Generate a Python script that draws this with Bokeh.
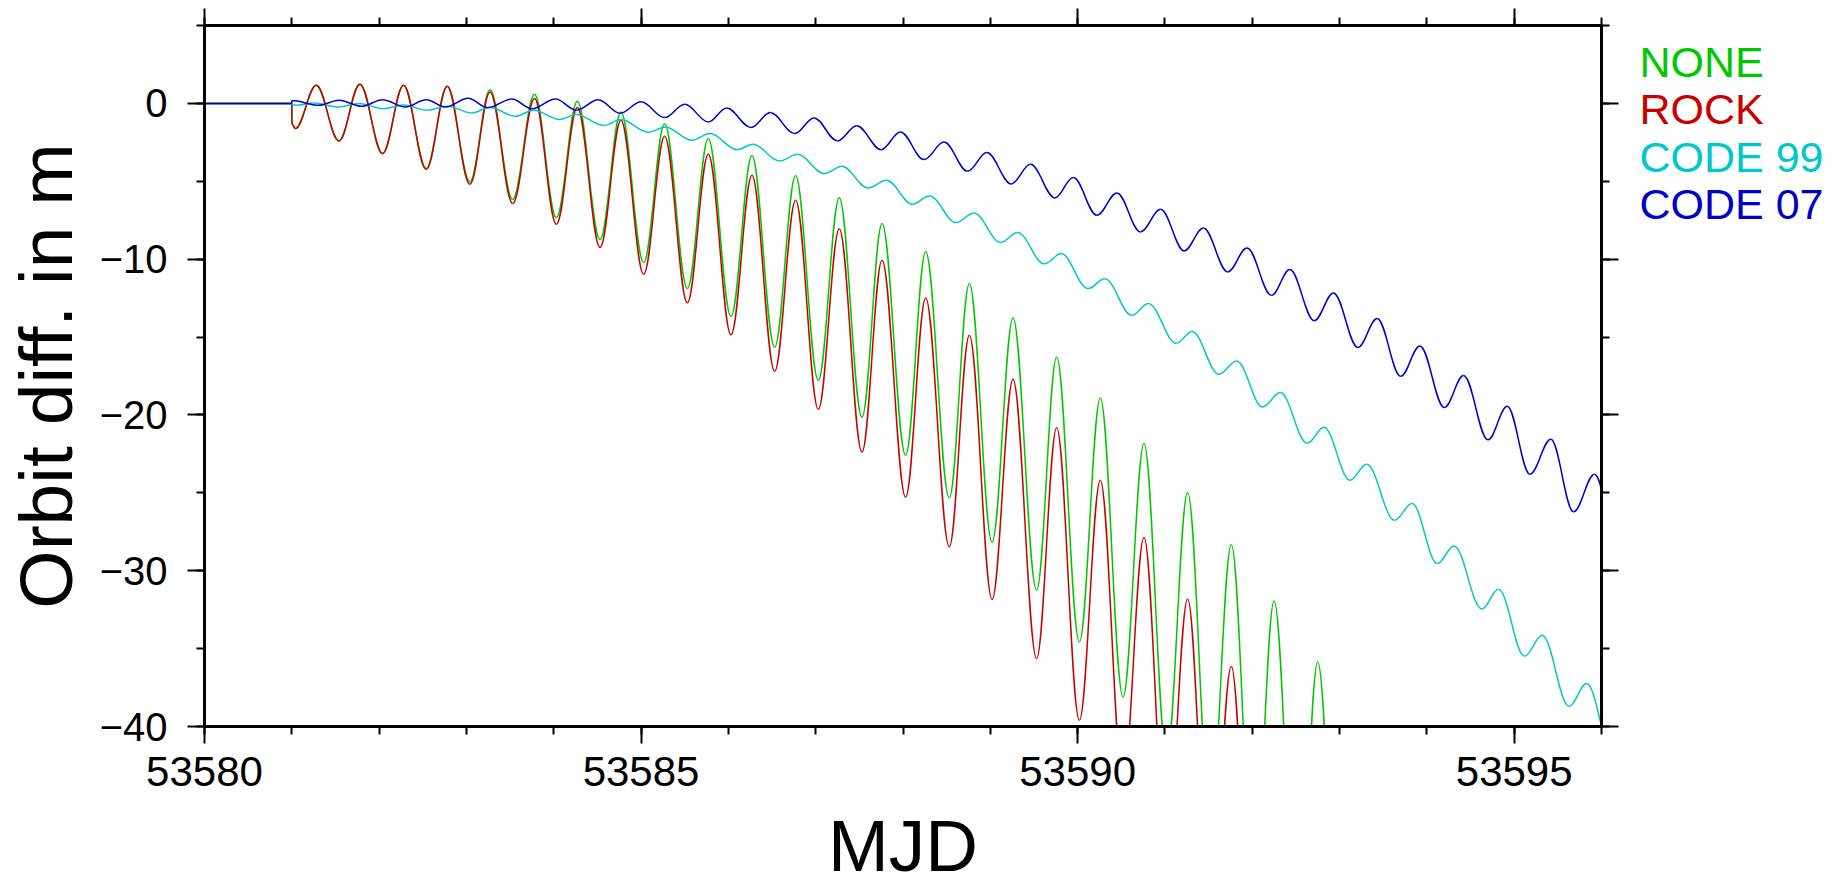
import numpy as np
from bokeh.plotting import figure
from bokeh.models import Range1d, LinearAxis, FixedTicker, ColumnDataSource
from bokeh.layouts import row, column
from bokeh.core.properties import value
from bokeh.embed import file_html
from bokeh.resources import INLINE

# ---------------- data ----------------
# Each series is given by its knots: start, the jump at MJD 53581 and then
# the successive maxima / minima of the orbit difference (metres).
none_x = [53580.0, 53581.0, 53581.0, 53581.04,
          53581.28, 53581.54, 53581.78, 53582.04, 53582.28, 53582.54,
          53582.78, 53583.04, 53583.27, 53583.53, 53583.78, 53584.03,
          53584.27, 53584.53, 53584.77, 53585.03, 53585.27, 53585.53,
          53585.77, 53586.03, 53586.27, 53586.53, 53586.77, 53587.03,
          53587.27, 53587.53, 53587.76, 53588.03, 53588.26, 53588.53,
          53588.76, 53589.02, 53589.26, 53589.53, 53589.76, 53590.02,
          53590.26, 53590.52, 53590.76, 53591.02, 53591.26, 53591.52,
          53591.76, 53592.02, 53592.25, 53592.52, 53592.75, 53593.02,
          53593.25, 53593.52]
none_y = [0.0, 0.0, -1.3, -1.62,
          1.16, -2.41, 1.23, -3.22, 1.16, -4.18,
          1.10, -5.04, 0.88, -6.17, 0.58, -7.33,
          0.13, -8.74, -0.55, -10.21, -1.31, -11.89,
          -2.26, -13.67, -3.35, -15.66, -4.63, -17.78,
          -6.05, -20.14, -7.71, -22.59, -9.51, -25.32,
          -11.57, -28.17, -13.78, -31.25, -16.28, -34.57,
          -18.91, -38.1, -21.84, -41.9, -24.98, -45.8,
          -28.32, -49.9, -31.94, -54.2, -35.85, -58.6,
          -40.1, -63.0]

rock_x = list(none_x)
rock_y = [0.0, 0.0, -1.3, -1.62,
          1.16, -2.41, 1.23, -3.22, 1.16, -4.24,
          1.10, -5.19, 0.73, -6.43, 0.31, -7.76,
          -0.27, -9.25, -1.08, -10.97, -2.11, -12.81,
          -3.27, -14.86, -4.62, -17.2, -6.22, -19.64,
          -8.04, -22.38, -10.07, -25.28, -12.5, -28.47,
          -14.89, -31.85, -17.71, -35.64, -20.83, -39.6,
          -24.19, -43.6, -27.87, -47.9, -31.81, -52.3,
          -36.13, -56.9, -40.8, -61.7, -45.6, -66.6,
          -50.6, -71.7]

code99_x = [53580.0, 53581.0, 53581.0, 53581.06,
            53581.25, 53581.54, 53581.77, 53582.05, 53582.28, 53582.55,
            53582.78, 53583.06, 53583.27, 53583.56, 53583.77, 53584.07,
            53584.26, 53584.57, 53584.77, 53585.08, 53585.28, 53585.58,
            53585.79, 53586.10, 53586.28, 53586.59, 53586.79, 53587.10,
            53587.30, 53587.60, 53587.81, 53588.11, 53588.30, 53588.61,
            53588.81, 53589.12, 53589.31, 53589.62, 53589.81, 53590.12,
            53590.31, 53590.62, 53590.81, 53591.13, 53591.31, 53591.62,
            53591.82, 53592.12, 53592.32, 53592.63, 53592.82, 53593.12,
            53593.31, 53593.63, 53593.83, 53594.12, 53594.31, 53594.63,
            53594.82, 53595.12, 53595.32, 53595.63, 53595.83, 53596.13]
code99_y = [0.0, 0.0, -0.08, -0.12,
            0.03, -0.23, -0.01, -0.34, -0.10, -0.44,
            -0.19, -0.61, -0.27, -0.83, -0.44, -1.03,
            -0.71, -1.42, -1.04, -1.85, -1.51, -2.37,
            -1.94, -2.97, -2.63, -3.70, -3.27, -4.51,
            -4.04, -5.43, -4.94, -6.48, -5.94, -7.65,
            -7.03, -8.93, -8.29, -10.3, -9.64, -11.89,
            -11.25, -13.6, -12.85, -15.4, -14.64, -17.39,
            -16.53, -19.49, -18.56, -21.82, -20.79, -24.19,
            -23.16, -26.76, -25.69, -29.54, -28.41, -32.45,
            -31.19, -35.49, -34.14, -38.7, -37.24, -41.8]

code07_x = [53580.0, 53581.0, 53581.0,
            53581.31, 53581.54, 53581.80, 53582.04, 53582.30, 53582.54,
            53582.76, 53583.02, 53583.24, 53583.52, 53583.75, 53584.02,
            53584.26, 53584.51, 53584.76, 53585.00, 53585.27, 53585.50,
            53585.77, 53585.98, 53586.26, 53586.48, 53586.76, 53586.98,
            53587.25, 53587.47, 53587.75, 53587.97, 53588.24, 53588.47,
            53588.74, 53588.96, 53589.24, 53589.46, 53589.74, 53589.95,
            53590.22, 53590.45, 53590.72, 53590.95, 53591.22, 53591.44,
            53591.72, 53591.94, 53592.22, 53592.43, 53592.71, 53592.93,
            53593.21, 53593.43, 53593.70, 53593.92, 53594.20, 53594.42,
            53594.70, 53594.92, 53595.18, 53595.42, 53595.68, 53595.92,
            53596.2]
code07_y = [0.0, 0.0, 0.18,
            -0.12, 0.20, -0.19, 0.24, -0.23, 0.24,
            -0.23, 0.33, -0.27, 0.28, -0.34, 0.28,
            -0.44, 0.24, -0.63, 0.10, -0.91, -0.06,
            -1.19, -0.29, -1.55, -0.59, -1.94, -0.94,
            -2.41, -1.43, -2.97, -1.83, -3.61, -2.48,
            -4.36, -3.16, -5.17, -3.91, -6.07, -4.76,
            -7.18, -5.75, -8.25, -6.80, -9.47, -8.0,
            -10.82, -9.28, -12.32, -10.67, -13.95, -12.17,
            -15.67, -13.81, -17.52, -15.57, -19.53, -17.47,
            -21.6, -19.44, -23.8, -21.56, -26.22, -23.8,
            -28.7]

series_names = ["NONE", "ROCK", "CODE 99", "CODE 07"]
series_colors = ["#00c800", "#c80000", "#00c8c8", "#0000c8"]
series_x = [none_x, rock_x, code99_x, code07_x]
series_y = [none_y, rock_y, code99_y, code07_y]

x_tick_values = [53580, 53585, 53590, 53595]
x_tick_labels = ["53580", "53585", "53590", "53595"]
x_minor_ticks = list(range(53580, 53597))
y_tick_values = [0, -10, -20, -30, -40]
y_tick_labels = ["0", "\u221210", "\u221220", "\u221230", "\u221240"]
y_minor_ticks = [5, 0, -5, -10, -15, -20, -25, -30, -35, -40]

x_label = "MJD"
y_label = "Orbit diff. in m"
FONT = "Liberation Sans"

# ---------------- layout constants (pixels) ----------------
W, H = 1837, 875
FRAME_L, FRAME_R, FRAME_T, FRAME_B = 204, 1601, 25, 726
MAIN_W = FRAME_R + 30          # main plot incl. right tick space
MAIN_H = 805                   # main plot incl. bottom tick labels
LEG_W = W - MAIN_W
STRIP_H = H - MAIN_H

# ---------------- main figure ----------------
p = figure(width=MAIN_W, height=MAIN_H, title=None,
           x_range=Range1d(53580, 53596), y_range=Range1d(-40, 5),
           x_axis_type=None, y_axis_type=None,
           output_backend="svg", toolbar_location=None,
           min_border_left=FRAME_L, min_border_right=MAIN_W - FRAME_R,
           min_border_top=FRAME_T, min_border_bottom=MAIN_H - FRAME_B,
           background_fill_color="white", border_fill_color="white")
p.outline_line_color = "black"
p.outline_line_width = 3
p.frame_align = False


def make_axis(ticker, overrides, show_labels, standoff, size):
    ax = LinearAxis(ticker=ticker)
    ax.axis_line_width = 3
    ax.axis_line_color = "black"
    ax.major_tick_in = 0
    ax.major_tick_out = 17
    ax.minor_tick_in = 0
    ax.minor_tick_out = 8
    ax.major_tick_line_width = 2
    ax.minor_tick_line_width = 2
    ax.major_tick_line_color = "black"
    ax.minor_tick_line_color = "black"
    ax.major_label_text_font = FONT
    ax.major_label_text_font_size = size
    ax.major_label_standoff = standoff
    if show_labels:
        ax.major_label_overrides = overrides
        ax.major_label_text_color = "black"
    else:
        ax.major_label_text_color = None
        ax.major_label_text_font_size = "1px"
    return ax


xt_ticker = FixedTicker(ticks=x_tick_values, minor_ticks=x_minor_ticks)
yt_ticker = FixedTicker(ticks=y_tick_values, minor_ticks=y_minor_ticks)
x_over = dict(zip(x_tick_values, x_tick_labels))
y_over = dict(zip(y_tick_values, y_tick_labels))

p.add_layout(make_axis(xt_ticker, x_over, True, 13, "42px"), "below")
p.add_layout(make_axis(xt_ticker, x_over, False, 0, "42px"), "above")
yleft = make_axis(yt_ticker, y_over, True, 20, "40px")
yleft.axis_label = y_label
yleft.axis_label_text_font = FONT
yleft.axis_label_text_font_size = "75px"
yleft.axis_label_text_font_style = "normal"
yleft.axis_label_text_color = "black"
yleft.axis_label_standoff = 9
p.add_layout(yleft, "left")
p.add_layout(make_axis(yt_ticker, y_over, False, 0, "40px"), "right")

# ---------------- curves (smooth segments between successive extrema) ----------------
K = 0.3634
for xs, ys, col in zip(series_x, series_y, series_colors):
    x = np.asarray(xs, dtype=float)
    y = np.asarray(ys, dtype=float)
    x0, x1 = x[:-1], x[1:]
    y0, y1 = y[:-1], y[1:]
    dx = x1 - x0
    src = ColumnDataSource(dict(x0=x0, y0=y0, x1=x1, y1=y1,
                                cx0=x0 + K * dx, cy0=y0,
                                cx1=x1 - K * dx, cy1=y1))
    p.bezier(x0="x0", y0="y0", x1="x1", y1="y1",
             cx0="cx0", cy0="cy0", cx1="cx1", cy1="cy1",
             source=src, line_color=col, line_width=1.5)


def blank_fig(w, h):
    f = figure(width=w, height=h, title=None,
               x_range=Range1d(0, w), y_range=Range1d(h, 0),
               x_axis_type=None, y_axis_type=None,
               output_backend="svg", toolbar_location=None,
               min_border=0, min_border_left=0, min_border_right=0,
               min_border_top=0, min_border_bottom=0,
               background_fill_color="white", border_fill_color="white")
    f.outline_line_color = None
    f.frame_align = False
    return f


# ---------------- legend texts (right of the frame) ----------------
q = blank_fig(LEG_W, MAIN_H)
leg_x0 = 1639 - MAIN_W
leg_src = ColumnDataSource(dict(
    x=[leg_x0] * len(series_names),
    y=[61 + 47.5 * i for i in range(len(series_names))],
    text=series_names, color=series_colors))
q.text(x="x", y="y", text="text", text_color="color", source=leg_src,
       text_font=value(FONT), text_font_size="43px",
       text_align="left", text_baseline="middle")

# ---------------- x axis title strip ----------------
s = blank_fig(W, STRIP_H)
s.text(x=[(FRAME_L + FRAME_R) / 2], y=[STRIP_H - 30], text=[x_label],
       text_font=value(FONT), text_font_size="73px", text_color="black",
       text_align="center", text_baseline="middle")

layout = column(row(p, q, spacing=0), s, spacing=0)
open("out.html", "w").write(file_html(layout, INLINE))
